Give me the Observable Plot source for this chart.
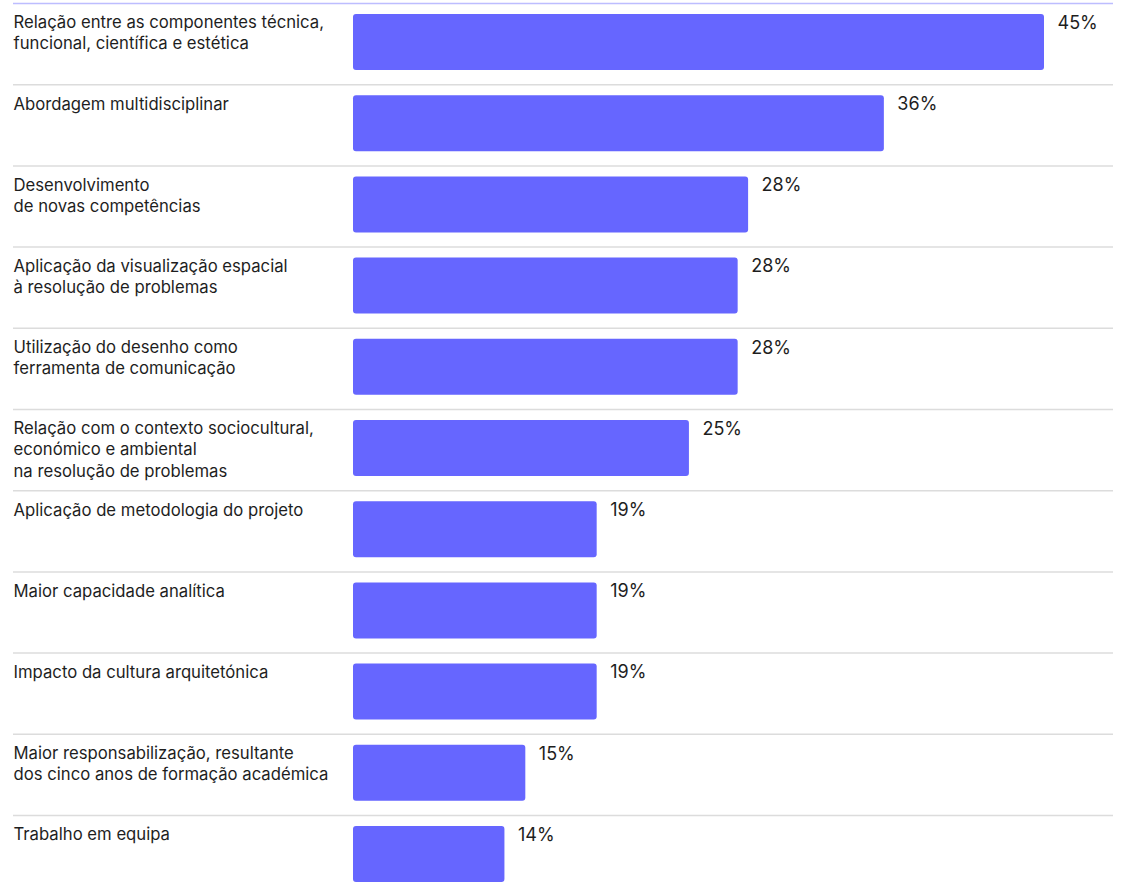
<!DOCTYPE html>
<html>
<head>
<meta charset="utf-8">
<script src="https://cdn.jsdelivr.net/npm/d3@7"></script>
<script src="https://cdn.jsdelivr.net/npm/@observablehq/plot@0.6"></script>
<style>
  html, body { margin: 0; padding: 0; background: #fff; }
  #chart svg { display: block; }
</style>
</head>
<body>
<div id="chart"></div>
<script>
const categories = [
  "Relação entre as componentes técnica,\nfuncional, científica e estética",
  "Abordagem multidisciplinar",
  "Desenvolvimento\nde novas competências",
  "Aplicação da visualização espacial\nà resolução de problemas",
  "Utilização do desenho como\nferramenta de comunicação",
  "Relação com o contexto sociocultural,\neconómico e ambiental\nna resolução de problemas",
  "Aplicação de metodologia do projeto",
  "Maior capacidade analítica",
  "Impacto da cultura arquitetónica",
  "Maior responsabilização, resultante\ndos cinco anos de formação académica",
  "Trabalho em equipa"
];
// bar lengths (%)
const values = [45.0, 35.8, 28.0, 27.4, 27.4, 24.6, 19.3, 19.3, 19.3, 15.2, 14.0];
// printed value labels
const valueLabels = ["45%", "36%", "28%", "28%", "28%", "25%", "19%", "19%", "19%", "15%", "14%"];
const xDomain = [5.3, 45.0];

const data = categories.map((c, i) => ({i, label: c, value: values[i], text: valueLabels[i]}));
const n = categories.length;
const rowH = 81.2;

const chart = Plot.plot({
  width: 1124,
  height: 890,
  marginLeft: 13,
  marginRight: 11,
  marginTop: 0,
  marginBottom: 0,
  style: {fontFamily: "Inter, 'Noto Sans', sans-serif", background: "#fff", overflow: "visible"},
  x: {domain: xDomain, range: [353, 1044], axis: null},
  y: {domain: [0, n], range: [3, 3 + n * rowH], axis: null},
  marks: [
    Plot.ruleY(d3.range(1, n), {stroke: "#dcdcdc", strokeWidth: 1.5}),
    Plot.ruleY([0], {stroke: "#bdbdff", strokeWidth: 1.5}),
    Plot.rect(data, {
      x1: () => xDomain[0], x2: "value",
      y1: "i", y2: d => d.i + 1,
      insetTop: 11, insetBottom: 14.2,
      rx: 3, fill: "#6666ff"
    }),
    Plot.text(data, {
      y: "i", text: "label", frameAnchor: "left",
      textAnchor: "start", lineAnchor: "top", dy: 10,
      fontSize: 16.7, lineHeight: 1.26, fill: "#1e1e1e"
    }),
    Plot.text(data, {
      x: "value", y: "i", text: "text",
      textAnchor: "start", lineAnchor: "top", dx: 13, dy: 12.5,
      fontSize: 18, fill: "#1e1e1e"
    })
  ]
});
document.getElementById("chart").appendChild(chart);
</script>
</body>
</html>
